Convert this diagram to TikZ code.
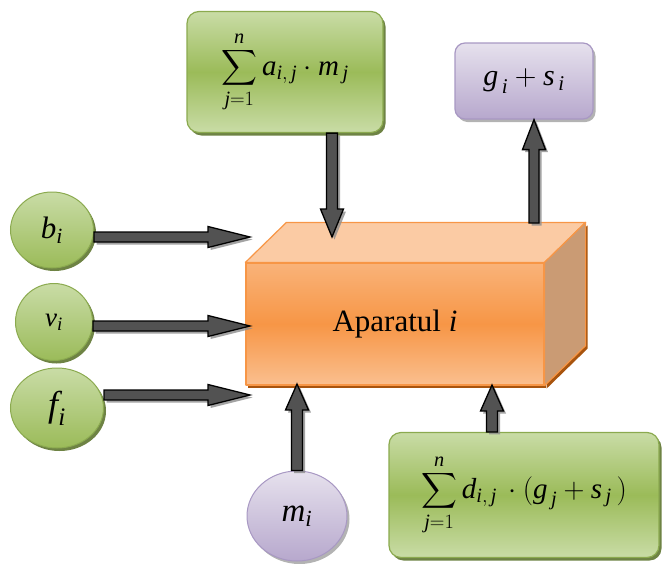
\RequirePackage{fix-cm}
\documentclass[tikz,border=0pt]{standalone}
\usepackage{amsmath}
\usepackage{fontspec}
\setmainfont{Liberation Serif}
\usetikzlibrary{calc, shadows, shapes.geometric, positioning}

\definecolor{grnlight}{HTML}{C9DCA6}
\definecolor{grnmid}{HTML}{9BBB59}
\definecolor{grnedge}{HTML}{8BAA4F}
\definecolor{grnshade}{HTML}{5E7530}
\definecolor{lavlight}{HTML}{E6E1ED}
\definecolor{lavmid}{HTML}{B7A8CD}
\definecolor{lavedge}{HTML}{A898C3}
\definecolor{orgmid}{HTML}{F79646}
\definecolor{orglight}{HTML}{FABF8F}
\definecolor{orgtop}{HTML}{FBCBA4}
\definecolor{orgside}{HTML}{CA9B74}
\definecolor{orgshade}{HTML}{A8540E}

% italic letters in the text font
\newcommand{\vl}[1]{\textit{#1}}

\tikzset{
  shaft/.initial=5.5pt, headw/.initial=11.5pt, headl/.initial=27pt,
  fatarrow/.style={draw=black, line width=1.3pt, fill=black!68, line join=miter,
    drop shadow={shadow xshift=2.5pt, shadow yshift=-2.5pt, fill=black!45, opacity=.8},
    to path={let \p1=(\tikztostart), \p2=(\tikztotarget),
      \p3=($(\p2)!\pgfkeysvalueof{/tikz/headl}!(\p1)$) in
      ($(\p1)!\pgfkeysvalueof{/tikz/shaft}!90:(\p2)$)
      -- ($(\p3)!\pgfkeysvalueof{/tikz/shaft}!90:(\p2)$)
      -- ($(\p3)!\pgfkeysvalueof{/tikz/headw}!90:(\p2)$)
      -- (\p2)
      -- ($(\p3)!\pgfkeysvalueof{/tikz/headw}!-90:(\p2)$)
      -- ($(\p3)!\pgfkeysvalueof{/tikz/shaft}!-90:(\p2)$)
      -- ($(\p1)!\pgfkeysvalueof{/tikz/shaft}!-90:(\p2)$)
      -- cycle}},
}

\begin{document}
\begin{tikzpicture}[x=1pt, y=-1pt,
    sumbox/.style={draw=grnedge, line width=1.2pt, rounded corners=12pt,
                   top color=grnlight, bottom color=grnlight, middle color=grnmid,
                   drop shadow={shadow xshift=2.5pt, shadow yshift=-3pt, fill=grnshade, opacity=.9},
                   font=\fontsize{29}{34}\selectfont},
    outbox/.style={draw=lavedge, line width=1.2pt, rounded corners=10pt,
                   top color=lavlight, bottom color=lavmid,
                   drop shadow={shadow xshift=2.5pt, shadow yshift=-3pt, fill=black!50, opacity=.6},
                   font=\fontsize{30}{34}\selectfont},
    inball/.style={ellipse, draw=grnedge, line width=1pt, inner sep=0pt,
                   top color=grnlight, bottom color=grnmid,
                   drop shadow={shadow xshift=2.5pt, shadow yshift=-3pt, fill=grnshade, opacity=.9}},
    mball/.style={ellipse, draw=lavedge, line width=1pt, inner sep=0pt,
                  top color=lavlight, bottom color=lavmid,
                  drop shadow={shadow xshift=2.5pt, shadow yshift=-3pt, fill=black!50, opacity=.6}},
    appface/.style={draw=orgmid, line width=1.2pt, line join=round,
                    top color=orglight!70!orgmid, bottom color=orglight, middle color=orgmid,
                    drop shadow={shadow xshift=2pt, shadow yshift=-3pt, fill=orgshade, opacity=1},
                    font=\fontsize{31}{36}\selectfont},
    cubeside/.style={draw=orgmid, line width=1.2pt, line join=round}
  ]
  \useasboundingbox (0,0) rectangle (662,563);

  % --- the apparatus as a box ---
  \node[appface, minimum width=298pt, minimum height=122pt] (app) at (395,324) {Aparatul \vl{i}};
  \draw[cubeside, fill=orgtop] (app.north west) -- ++(41,-40)
    -- ($(app.north east)+(41,-40)$) -- (app.north east) -- cycle;
  \draw[cubeside, fill=orgside,
        drop shadow={shadow xshift=2pt, shadow yshift=-3pt, fill=orgshade, opacity=1}]
    (app.north east) -- ++(41,-40) -- ($(app.south east)+(41,-40)$) -- (app.south east) -- cycle;

  % --- sums and output ---
  \node[sumbox, minimum width=196pt, minimum height=121pt] (sumA) at (285,72)
    {$\displaystyle\sum_{\vl{j}=1}^{\vl{n}} \vl{a}_{\vl{i},\,\vl{j}}\cdot \vl{m}_{\,\vl{j}}$};
  \node[sumbox, minimum width=270pt, minimum height=125pt] (sumD) at (524,495)
    {$\displaystyle\sum_{\vl{j}=1}^{\vl{n}} \vl{d}_{\vl{i},\,\vl{j}}\,\cdot(\vl{g}_{\,\vl{j}} + \vl{s}_{\,\vl{j}}\,)$};
  \node[outbox, minimum width=138pt, minimum height=76pt] (gs) at (524,81)
    {$\vl{g}_{\,\vl{i}} + \vl{s}_{\,\vl{i}}$};

  % --- inputs ---
  \node[inball, minimum width=83pt, minimum height=76pt, font=\fontsize{31}{34}\selectfont]
    (bi) at (52,230) {$\vl{b}_{\vl{i}}$};
  \node[inball, minimum width=77pt, minimum height=77pt, font=\fontsize{27}{30}\selectfont]
    (vi) at (54,322) {$\vl{v}_{\vl{i}}$};
  \node[inball, minimum width=93pt, minimum height=80pt, font=\fontsize{36}{40}\selectfont]
    (fi) at (57,408) {$\vl{f}_{\vl{i}}$};
  \node[mball, minimum width=100pt, minimum height=90pt, font=\fontsize{33}{36}\selectfont]
    (mi) at (297,516) {$\vl{m}_{\vl{i}}$};

  % --- arrow ends on the box ---
  \coordinate (inB) at (250,237);
  \coordinate (inV) at (250,326);
  \coordinate (inF) at (250,395);
  \coordinate (inA) at (332,237);
  \coordinate (outG) at (534,223);
  \coordinate (inM) at (297,384);
  \coordinate (inD) at (492,385);

  \draw[fatarrow, headl=42pt, headw=10.5pt, shaft=5pt] (bi.east |- inB) to (inB);
  \draw[fatarrow, headl=42pt, headw=10.5pt, shaft=5pt] (vi.east |- inV) to (inV);
  \draw[fatarrow, headl=42pt, headw=10.5pt, shaft=5pt] (fi.east |- inF) to (inF);
  \draw[fatarrow, headl=28pt] (sumA.south -| inA) to (inA);
  \draw[fatarrow, headl=30pt, shaft=5pt] (outG) to (gs.south -| outG);
  \draw[fatarrow, headl=26pt] (mi.north) to (inM);
  \draw[fatarrow, headl=26pt] (sumD.north -| inD) to (inD);

\end{tikzpicture}
\end{document}
